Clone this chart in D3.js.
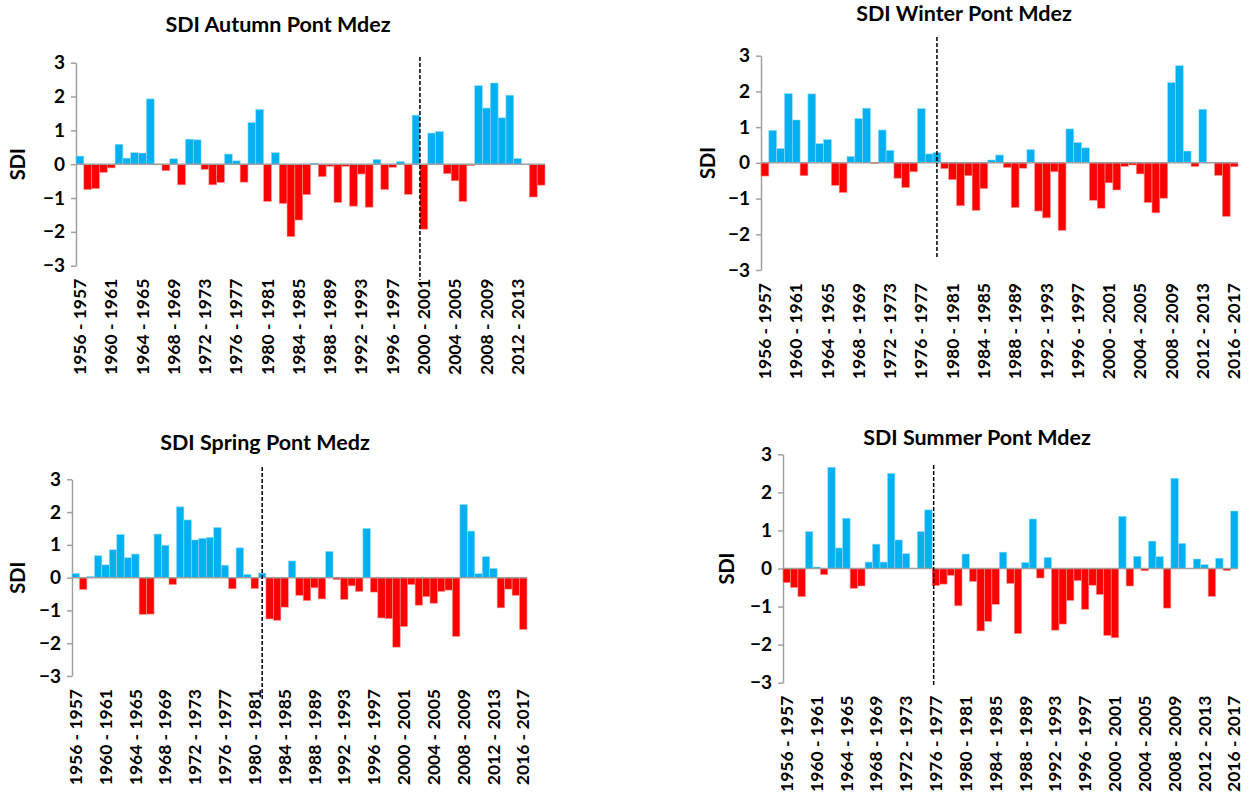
<!DOCTYPE html>
<html>
<head>
<meta charset="utf-8">
<script src="https://cdn.jsdelivr.net/npm/d3@7"></script>
<style>
  body { margin: 0; background: #fff; }
  text { font-family: Lato, "Open Sans", sans-serif; font-weight: bold; fill: #000; }
</style>
</head>
<body>
<script>
// categories: hydrological seasons
var seasons = d3.range(1956, 2017).map(function(y) { return y + ' - ' + (y + 1); });

// SDI values
var autumnSdi = [0.24, -0.75, -0.72, -0.24, -0.11, 0.59, 0.18, 0.34, 0.33, 1.93,
  -0.02, -0.19, 0.16, -0.61, 0.74, 0.72, -0.15, -0.61, -0.54, 0.30,
  0.10, -0.53, 1.23, 1.62, -1.10, 0.34, -1.16, -2.14, -1.65, -0.90,
  0.03, -0.37, -0.06, -1.13, -0.06, -1.24, -0.29, -1.27, 0.14, -0.75,
  -0.09, 0.08, -0.89, 1.45, -1.92, 0.92, 0.97, -0.28, -0.49, -1.10,
  -0.04, 2.32, 1.66, 2.40, 1.37, 2.04, 0.17, 0, -0.97, -0.62];

var winterSdi = [-0.37, 0.91, 0.40, 1.94, 1.20, -0.36, 1.93, 0.54, 0.65, -0.63,
  -0.83, 0.18, 1.24, 1.53, -0.02, 0.92, 0.35, -0.43, -0.69, -0.25,
  1.52, 0.25, 0.29, -0.16, -0.47, -1.20, -0.36, -1.33, -0.72, 0.08,
  0.22, -0.13, -1.25, -0.15, 0.37, -1.35, -1.54, -0.25, -1.89, 0.95,
  0.57, 0.42, -1.05, -1.27, -0.56, -0.76, -0.10, -0.06, -0.31, -1.11,
  -1.40, -0.99, 2.25, 2.72, 0.33, -0.10, 1.50, 0, -0.35, -1.50, -0.11];

var springSdi = [0.13, -0.36, 0.04, 0.67, 0.39, 0.85, 1.32, 0.61, 0.72, -1.12,
  -1.11, 1.33, 0.99, -0.21, 2.16, 1.76, 1.15, 1.20, 1.23, 1.53,
  0.38, -0.34, 0.91, 0.10, -0.33, 0.14, -1.26, -1.30, -0.90, 0.51,
  -0.54, -0.70, -0.31, -0.65, 0.80, -0.06, -0.66, -0.25, -0.42, 1.50,
  -0.44, -1.23, -1.25, -2.12, -1.49, -0.21, -0.84, -0.58, -0.78, -0.42,
  -0.38, -1.79, 2.23, 1.42, 0.12, 0.64, 0.28, -0.92, -0.35, -0.54, -1.58];

var summerSdi = [-0.37, -0.50, -0.74, 0.97, 0.04, -0.16, 2.66, 0.54, 1.32, -0.52,
  -0.46, 0.17, 0.64, 0.17, 2.50, 0.75, 0.39, 0, 0.97, 1.54,
  -0.45, -0.41, -0.18, -0.98, 0.38, -0.34, -1.64, -1.39, -0.94, 0.43,
  -0.39, -1.71, 0.16, 1.30, -0.25, 0.29, -1.62, -1.46, -0.84, -0.32,
  -1.07, -0.44, -0.68, -1.76, -1.82, 1.37, -0.46, 0.32, -0.06, 0.72,
  0.31, -1.04, 2.37, 0.66, 0, 0.25, 0.10, -0.73, 0.27, -0.05, 1.51];

var yTicks = [-3, -2, -1, 0, 1, 2, 3];

// layout of the four panels
var panels = [
  { title: 'SDI Autumn Pont Mdez', values: autumnSdi, split: '2000 - 2001', splitAt: 0,
    left: 76, right: 545, top: 62.7, bottom: 265.7, titleX: 278, titleY: 31.5, labelX: 18,
    dashTop: 57, dashBottom: 280 },
  { title: 'SDI Winter Pont Mdez', values: winterSdi, split: '1978 - 1979', splitAt: 0.5,
    left: 761, right: 1238, top: 55.7, bottom: 270, titleX: 964, titleY: 21, labelX: 708,
    dashTop: 37, dashBottom: 258 },
  { title: 'SDI Spring Pont Medz', values: springSdi, split: '1981 - 1982', splitAt: 0.5,
    left: 72, right: 527, top: 479.3, bottom: 676, titleX: 265, titleY: 450, labelX: 18,
    dashTop: 467, dashBottom: 700 },
  { title: 'SDI Summer Pont Mdez', values: summerSdi, split: '1976 - 1977', splitAt: 0.2,
    left: 783, right: 1238, top: 454.3, bottom: 682.7, titleX: 977, titleY: 445, labelX: 727,
    dashTop: 465, dashBottom: 686 }
];

var blue = '#00b0f0', red = '#ff0000', grey = '#a0a0a0';

var svg = d3.select('body').append('svg')
  .attr('width', 1250)
  .attr('height', 800);

panels.forEach(function(p) {
  var cats = seasons.slice(0, p.values.length);
  var x = d3.scaleBand().domain(cats).range([p.left, p.right]).padding(0);
  var y = d3.scaleLinear().domain([-3, 3]).range([p.bottom, p.top]);
  var g = svg.append('g');

  // title
  g.append('text')
    .attr('x', p.titleX)
    .attr('y', p.titleY)
    .attr('text-anchor', 'middle')
    .style('font-size', '21.5px')
    .text(p.title);

  // y axis
  var yAxis = g.append('g')
    .attr('transform', 'translate(' + p.left + ',0)')
    .call(d3.axisLeft(y).tickValues(yTicks).tickFormat(d3.format('d'))
      .tickSize(5).tickSizeOuter(0).tickPadding(6));
  yAxis.selectAll('path, line').attr('stroke', grey).attr('stroke-width', 1.5);
  yAxis.selectAll('text').style('font-size', '19px').style('font-family', 'Lato, sans-serif');

  g.append('text')
    .attr('transform', 'translate(' + p.labelX + ',' + y(0) + ') rotate(-90)')
    .attr('text-anchor', 'middle')
    .attr('dy', '0.35em')
    .style('font-size', '20px')
    .text('SDI');

  // bars
  g.selectAll('rect.bar')
    .data(p.values)
    .enter().append('rect')
    .attr('class', 'bar')
    .attr('x', function(d, i) { return x(cats[i]); })
    .attr('width', x.bandwidth())
    .attr('y', function(d) { return Math.min(y(d), y(0)); })
    .attr('height', function(d) { return Math.abs(y(d) - y(0)); })
    .attr('fill', function(d) { return d >= 0 ? blue : red; })
    .attr('stroke', function(d) { return d >= 0 ? '#8fdcf8' : '#ff9090'; })
    .attr('stroke-width', 0.6);

  // zero line
  g.append('line')
    .attr('x1', p.left).attr('x2', p.right)
    .attr('y1', y(0)).attr('y2', y(0))
    .attr('stroke', grey)
    .attr('stroke-width', 1.5);

  // category labels, every 4th season
  g.selectAll('text.cat')
    .data(cats.filter(function(c, i) { return i % 4 === 0; }))
    .enter().append('text')
    .attr('class', 'cat')
    .attr('transform', function(c) {
      return 'translate(' + (x(c) + x.bandwidth() / 2) + ',' + (p.bottom + 13) + ') rotate(-90)';
    })
    .attr('text-anchor', 'end')
    .attr('dy', '0.35em')
    .style('font-size', '17.5px')
    .text(function(c) { return c; });

  // dashed split line
  var sx = x(p.split) + x.bandwidth() * p.splitAt;
  g.append('line')
    .attr('x1', sx).attr('x2', sx)
    .attr('y1', p.dashTop).attr('y2', p.dashBottom)
    .attr('stroke', '#000')
    .attr('stroke-width', 1.5)
    .attr('stroke-dasharray', '4,2');
});
</script>
</body>
</html>
